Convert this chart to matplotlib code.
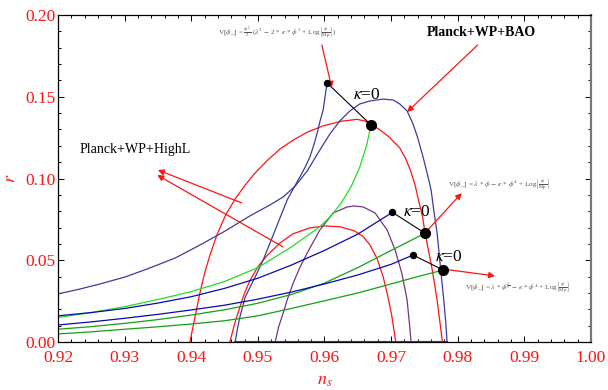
import numpy as np
import matplotlib
matplotlib.use('Agg')
import matplotlib.pyplot as plt
from matplotlib.ticker import MultipleLocator, FormatStrFormatter

plt.rcParams['font.family'] = ['Liberation Serif', 'DejaVu Serif']
plt.rcParams['mathtext.fontset'] = 'stix'

# ---- data ----
# Planck+WP+HighL contours (red)
red_big_ns = [0.9398, 0.9402, 0.9407, 0.9413, 0.942, 0.9428, 0.9439, 0.9452, 0.9466, 0.948,
              0.9495, 0.9514, 0.9533, 0.9553, 0.9575, 0.9598, 0.9625, 0.9649, 0.966, 0.967,
              0.9684, 0.9697, 0.9713, 0.9722, 0.9729, 0.9736, 0.9741, 0.9747, 0.9751, 0.9756,
              0.9761, 0.9765, 0.9769, 0.9773, 0.9777]
red_big_r = [0.0, 0.008, 0.018, 0.03, 0.042, 0.053, 0.066, 0.078, 0.0875, 0.0955,
             0.103, 0.111, 0.118, 0.1235, 0.1285, 0.1322, 0.135, 0.1362, 0.1352, 0.1332,
             0.1295, 0.1254, 0.1187, 0.112, 0.105, 0.096, 0.0869, 0.077, 0.0667, 0.056,
             0.0459, 0.036, 0.0257, 0.013, 0.0]
red_small_ns = [0.9458, 0.9465, 0.9473, 0.948, 0.9488, 0.95, 0.9514, 0.9533, 0.9553, 0.9578,
                0.96, 0.9623, 0.9645, 0.9658, 0.9668, 0.9679, 0.9688, 0.9695, 0.9701, 0.9707]
red_small_r = [0.0, 0.011, 0.0214, 0.03, 0.0375, 0.046, 0.053, 0.0605, 0.0662, 0.0698,
               0.071, 0.0705, 0.068, 0.0645, 0.0595, 0.051, 0.04, 0.028, 0.016, 0.0]

# Planck+WP+BAO contours
bao_big_ns = [0.92, 0.9233, 0.9263, 0.9301, 0.9338, 0.9376, 0.9413, 0.9451, 0.9488, 0.9518,
              0.9538, 0.9556, 0.9574, 0.9593, 0.9608, 0.9623, 0.9638, 0.9653, 0.9668, 0.9688,
              0.9703, 0.9713, 0.9724, 0.9733, 0.974, 0.9748, 0.9754, 0.976, 0.9764, 0.9769,
              0.9773, 0.9776, 0.9779, 0.9782, 0.9784]
bao_big_r = [0.0294, 0.0324, 0.0355, 0.0398, 0.0453, 0.0514, 0.0593, 0.0679, 0.0771, 0.0838,
             0.0887, 0.0954, 0.1046, 0.1174, 0.1272, 0.1352, 0.1413, 0.1456, 0.1474, 0.1486,
             0.148, 0.1456, 0.1413, 0.1333, 0.1248, 0.1131, 0.1034, 0.093, 0.0807, 0.0667,
             0.0502, 0.0379, 0.0257, 0.0122, 0.0]
bao_left_ns = [0.9604, 0.9601, 0.9598, 0.9593, 0.9589, 0.9584, 0.9578, 0.9571, 0.9563, 0.9553,
               0.9544, 0.9535, 0.9526, 0.9517, 0.9508, 0.9496, 0.9481, 0.9473, 0.9469, 0.9466]
bao_left_r = [0.1584, 0.1505, 0.1419, 0.1346, 0.1278, 0.1205, 0.1131, 0.107, 0.1009, 0.0936,
              0.0869, 0.0777, 0.0685, 0.0593, 0.0502, 0.0398, 0.0275, 0.0153, 0.0073, 0.0]
bao_small_ns = [0.9526, 0.9531, 0.9538, 0.9545, 0.9553, 0.9563, 0.9574, 0.9593, 0.9613, 0.9634,
                0.9645, 0.9658, 0.9676, 0.9694, 0.9706, 0.9716, 0.9724, 0.9728, 0.973]
bao_small_r = [0.0, 0.009, 0.0177, 0.027, 0.036, 0.0455, 0.0544, 0.0685, 0.0789, 0.0826,
               0.0832, 0.0826, 0.0789, 0.0685, 0.0563, 0.0422, 0.0257, 0.0092, 0.0]

# model predictions
green1_ns = [0.92, 0.925, 0.93, 0.935, 0.94, 0.945, 0.95, 0.955, 0.9593, 0.961, 0.9625, 0.964,
             0.9653, 0.9663, 0.967]
green1_r = [0.015, 0.018, 0.0216, 0.026, 0.0308, 0.037, 0.0455, 0.058, 0.0705, 0.0772, 0.085, 0.095,
            0.107, 0.12, 0.1327]
blue1_ns = [0.92, 0.925, 0.93, 0.935, 0.94, 0.945, 0.95, 0.955, 0.96, 0.965, 0.9702]
blue1_r = [0.016, 0.018, 0.0205, 0.0238, 0.0277, 0.0328, 0.039, 0.047, 0.056, 0.066, 0.0793]
green2_ns = [0.92, 0.925, 0.93, 0.935, 0.94, 0.945, 0.95, 0.955, 0.96, 0.965, 0.97, 0.9751]
green2_r = [0.0078, 0.0094, 0.0114, 0.0137, 0.0165, 0.0197, 0.0237, 0.029, 0.036, 0.0455, 0.056, 0.0665]
blue2_ns = [0.92, 0.925, 0.93, 0.935, 0.94, 0.945, 0.95, 0.955, 0.96, 0.965, 0.97, 0.9733]
blue2_r = [0.0104, 0.0123, 0.0145, 0.0169, 0.0196, 0.0225, 0.0262, 0.0305, 0.0355, 0.041, 0.0475, 0.0532]
green3_ns = [0.92, 0.925, 0.93, 0.935, 0.94, 0.945, 0.95, 0.955, 0.96, 0.965, 0.97, 0.9738, 0.9778]
green3_r = [0.0049, 0.0062, 0.0078, 0.0093, 0.011, 0.013, 0.016, 0.0205, 0.0252, 0.03, 0.0355, 0.0398, 0.044]

# end points (small dot) and kappa=0 points (big dot)
small_ns = [0.9604, 0.9702, 0.9733]
small_r = [0.1584, 0.0793, 0.0532]
big_ns = [0.967, 0.9751, 0.9778]
big_r = [0.1327, 0.0665, 0.044]

formulas = [r'V[$\phi$_] = $\frac{\phi^2}{2}$ ($\lambda^2$ $-$ 2 $*$ $\kappa$ $*$ $\phi^2$ + Log$\left[\frac{\phi}{\mathrm{Mp}}\right]$)',
            r'V[$\phi$_] = $\lambda$ $*$ $\phi$ $-$ $\kappa$ $*$ $\phi^4$ + Log$\left[\frac{\phi}{\mathrm{Mp}}\right]$',
            r'V[$\phi$_] = $\lambda$ $*$ $\phi^{\frac{2}{3}}$ $-$ $\kappa$ $*$ $\phi^4$ + Log$\left[\frac{\phi}{\mathrm{Mp}}\right]$']

RED = '#ff1414'
SLATE = '#3c3c9c'
BLUE = '#0a0ab0'
LGREEN = '#22dd22'
DGREEN = '#14a014'
PURPLE = '#773388'

fig = plt.figure(figsize=(6.08, 3.90), dpi=100)
ax = fig.add_axes([0.0954, 0.1231, 0.8766, 0.8384])

lw = 0.9
ax.plot(red_big_ns, red_big_r, color=RED, lw=lw)
ax.plot(red_small_ns, red_small_r, color=RED, lw=lw)
ax.plot(bao_big_ns, bao_big_r, color=SLATE, lw=lw)
ax.plot(bao_left_ns, bao_left_r, color=SLATE, lw=lw)
ax.plot([bao_left_ns[-1], bao_big_ns[-1]], [0, 0], color=SLATE, lw=1.5)
ax.plot(bao_small_ns, bao_small_r, color=PURPLE, lw=lw)

ax.plot(green1_ns, green1_r, color=LGREEN, lw=lw)
ax.plot(blue1_ns, blue1_r, color=BLUE, lw=lw)
ax.plot(green2_ns, green2_r, color=DGREEN, lw=lw)
ax.plot(blue2_ns, blue2_r, color=BLUE, lw=lw)
ax.plot(green3_ns, green3_r, color=DGREEN, lw=lw)

for i in range(3):
    ax.plot([small_ns[i], big_ns[i]], [small_r[i], big_r[i]], color='black', lw=0.8)
ax.plot(small_ns, small_r, 'o', color='black', ms=4.3, zorder=5)
ax.plot(big_ns, big_r, 'o', color='black', ms=7, zorder=5)

# kappa = 0 labels
for x, y in [(0.9664, 0.151), (0.9739, 0.0795), (0.9786, 0.052)]:
    ax.text(x, y, r'$\kappa$=0', fontsize=12.5, ha='center', va='center')

arrow = dict(arrowstyle='-|>', color=RED, lw=0.9, mutation_scale=9, shrinkA=0, shrinkB=0)
ax.annotate('', xy=(0.9724, 0.1407), xytext=(0.983, 0.1817), arrowprops=arrow)
ax.annotate('', xy=(0.9611, 0.1554), xytext=(0.9596, 0.1817), arrowprops=arrow)
ax.annotate('', xy=(0.9806, 0.0911), xytext=(0.9751, 0.0667), arrowprops=arrow)
ax.annotate('', xy=(0.9856, 0.0404), xytext=(0.9778, 0.0446), arrowprops=arrow)
ax.annotate('', xy=(0.935, 0.1052), xytext=(0.9476, 0.085), arrowprops=arrow)
ax.annotate('', xy=(0.9349, 0.1021), xytext=(0.9538, 0.0581), arrowprops=arrow)

ax.text(0.9836, 0.189, 'Planck+WP+BAO', fontsize=10, fontweight='bold', ha='center', va='center')
ax.text(0.9233, 0.118, 'Planck+WP+HighL', fontsize=10, ha='left', va='center')

ax.text(0.9529, 0.189, formulas[0], fontsize=5.2, color='#555555', ha='center', va='center')
ax.text(0.9785, 0.096, formulas[1], fontsize=5.2, color='#555555', ha='left', va='center')
ax.text(0.9811, 0.033, formulas[2], fontsize=5.2, color='#555555', ha='left', va='center')

ax.set_xlim(0.92, 1.00)
ax.set_ylim(0.0, 0.20)
ax.xaxis.set_major_locator(MultipleLocator(0.01))
ax.xaxis.set_minor_locator(MultipleLocator(0.002))
ax.yaxis.set_major_locator(MultipleLocator(0.05))
ax.yaxis.set_minor_locator(MultipleLocator(0.01))
ax.xaxis.set_major_formatter(FormatStrFormatter('%.2f'))
ax.yaxis.set_major_formatter(FormatStrFormatter('%.2f'))
ax.tick_params(which='both', direction='in', top=True, right=True, colors='black',
               labelcolor=RED, labelsize=12.5, width=0.7)
ax.tick_params(which='major', length=4.5)
ax.tick_params(which='minor', length=2.5)
ax.tick_params(axis='x', which='major', pad=6)
ax.tick_params(axis='y', which='major', pad=2)
for s in ax.spines.values():
    s.set_linewidth(0.9)
ax.spines['right'].set_color('#777777')
ax.spines['right'].set_linewidth(1.6)

ax.set_xlabel(r'$n_s$', color=RED, fontsize=13, labelpad=4)
ax.set_ylabel(r'$r$', color=RED, fontsize=13, rotation=90, labelpad=4)

fig.savefig('out.png', dpi=100)
